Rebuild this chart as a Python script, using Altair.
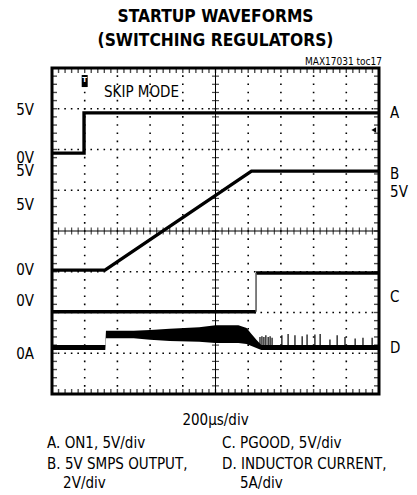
import altair as alt
import pandas as pd
import numpy as np

FONT = "DejaVu Sans Condensed, Liberation Sans Narrow, sans-serif"

# ---- waveform data (units: divisions; x 0-10, y 0-8 from bottom) ----
a_x = [0.0, 0.98, 0.98, 10.0]
a_y = [5.91, 5.91, 6.90, 6.90]

b_x = [0.0, 1.62, 6.10, 10.0]
b_y = [3.04, 3.04, 5.47, 5.47]

c_lo_x = [0.0, 6.24]
c_lo_y = [2.02, 2.02]
c_hi_x = [6.24, 10.0]
c_hi_y = [2.97, 2.97]

d_x = [0.0, 1.63, 1.65, 2.5, 3.0, 3.6, 4.5, 5.0, 5.7, 5.95, 6.1, 6.25, 6.4, 10.0]
d_top = [1.20, 1.20, 1.55, 1.55, 1.57, 1.60, 1.64, 1.69, 1.69, 1.62, 1.47, 1.33, 1.20, 1.20]
d_bot = [1.08, 1.08, 1.37, 1.37, 1.33, 1.30, 1.28, 1.25, 1.25, 1.23, 1.18, 1.13, 1.08, 1.08]
d_base = 1.14

spike_x = [6.36, 6.42, 6.48, 6.54, 6.61, 6.67, 6.73, 7.03, 7.22, 7.43, 7.65, 7.80,
           8.04, 8.20, 8.50, 8.72, 8.96, 9.27, 9.51, 9.79]
spike_top = [1.40, 1.42, 1.40, 1.44, 1.40, 1.42, 1.38, 1.44, 1.47, 1.44, 1.42, 1.46,
             1.46, 1.47, 1.34, 1.44, 1.40, 1.36, 1.38, 1.38]

# ---- text ----
left_labels = ["5V", "0V", "5V", "5V", "0V", "0V", "0A"]
left_y = [6.847, 5.680, 5.340, 4.515, 2.920, 2.160, 0.859]
right_labels = ["A", "B", "5V", "C", "D"]
right_y = [6.773, 5.276, 4.834, 2.258, 1.006]

title_lines = ["STARTUP WAVEFORMS", "(SWITCHING REGULATORS)"]
title_y = [9.12, 8.545]
note = "MAX17031 toc17"
timebase = "200\u00b5s/div"
legend_left = ["A. ON1, 5V/div", "B. 5V SMPS OUTPUT,", "2V/div"]
legend_left_x = [-0.15, -0.15, 0.34]
legend_right = ["C. PGOOD, 5V/div", "D. INDUCTOR CURRENT,", "5A/div"]
legend_right_x = [5.20, 5.20, 5.75]
legend_y = [-1.313, -1.840, -2.300]

W, H = 327, 326
xs = alt.Scale(domain=[0, 10], nice=False, zero=False)
ys = alt.Scale(domain=[0, 8], nice=False, zero=False)


def X(f="x"):
    return alt.X(f"{f}:Q", scale=xs, axis=None)


def Y(f="y"):
    return alt.Y(f"{f}:Q", scale=ys, axis=None)


# grid
gv = pd.DataFrame({"x": [1, 2, 3, 4, 6, 7, 8, 9], "y0": 0, "y1": 8})
gh = pd.DataFrame({"y": [1, 2, 3, 5, 6, 7], "x0": 0, "x1": 10})
grid_v = alt.Chart(gv).mark_rule(color="black", strokeWidth=1.6,
                                 strokeDash=[1.6, 6.55], strokeDashOffset=0.8).encode(
    x=X(), y=Y("y0"), y2="y1:Q")
grid_h = alt.Chart(gh).mark_rule(color="black", strokeWidth=1.6,
                                 strokeDash=[1.6, 4.94], strokeDashOffset=0.8).encode(
    y=Y(), x=X("x0"), x2="x1:Q")
center_v = alt.Chart(pd.DataFrame({"x": [5], "y0": [0], "y1": [8]})).mark_rule(
    color="black", strokeWidth=1).encode(x=X(), y=Y("y0"), y2="y1:Q")
center_h = alt.Chart(pd.DataFrame({"y": [4], "x0": [0], "x1": [10]})).mark_rule(
    color="black", strokeWidth=1).encode(y=Y(), x=X("x0"), x2="x1:Q")

mx = np.round(np.arange(0, 10.001, 0.2), 2)
my = np.round(np.arange(0, 8.001, 0.2), 2)
tick_xc = alt.Chart(pd.DataFrame({"x": mx, "y": 4.0})).mark_tick(
    orient="vertical", size=7, thickness=1.2, color="black").encode(x=X(), y=Y())
tick_yc = alt.Chart(pd.DataFrame({"x": 5.0, "y": my})).mark_tick(
    orient="horizontal", size=7, thickness=1.2, color="black").encode(x=X(), y=Y())
edge_x = pd.DataFrame({"x": np.concatenate([mx, mx]),
                       "y": [0.0] * len(mx) + [8.0] * len(mx)})
edge_y = pd.DataFrame({"y": np.concatenate([my, my]),
                       "x": [0.0] * len(my) + [10.0] * len(my)})
tick_xe = alt.Chart(edge_x).mark_tick(orient="vertical", size=10, thickness=1.4,
                                      color="black", clip=True).encode(x=X(), y=Y())
tick_ye = alt.Chart(edge_y).mark_tick(orient="horizontal", size=10, thickness=1.4,
                                      color="black", clip=True).encode(x=X(), y=Y())


# traces
def seg(xv, yv, name):
    return pd.DataFrame({"x": xv, "y": yv, "t": name, "i": list(range(len(xv)))})


lines_df = pd.concat([seg(a_x, a_y, "A"), seg(b_x, b_y, "B"),
                      seg(c_lo_x, c_lo_y, "C1"), seg(c_hi_x, c_hi_y, "C2")],
                     ignore_index=True)
traces = alt.Chart(lines_df).mark_line(color="black", strokeWidth=3.4).encode(
    x=X(), y=Y(), detail="t:N", order="i:Q")
c_step = alt.Chart(pd.DataFrame({"x": [c_lo_x[1]], "y": [c_lo_y[1]], "y2": [c_hi_y[0]]})).mark_rule(
    color="#555555", strokeWidth=1.5).encode(x=X(), y=Y(), y2="y2:Q")

d_df = pd.DataFrame({"x": d_x, "top": d_top, "bot": d_bot})
d_area = alt.Chart(d_df).mark_area(color="black", interpolate="linear").encode(
    x=X(), y=Y("bot"), y2="top:Q")
sp_df = pd.DataFrame({"x": spike_x, "top": spike_top, "base": d_base})
spikes = alt.Chart(sp_df).mark_rule(color="black", strokeWidth=1.2).encode(
    x=X(), y=Y("base"), y2="top:Q")

# markers
trig = alt.Chart(pd.DataFrame({"x": [1.0], "y": [7.68]})).mark_point(
    shape="M-0.5,-1L0.5,-1L0.5,1L-0.5,1Z", filled=True, color="black", size=144,
    opacity=1).encode(x=X(), y=Y())
trig_t = alt.Chart(pd.DataFrame({"x": [1.0], "y": [7.70], "t": ["T"]})).mark_text(
    color="white", fontSize=7, fontWeight="bold", font="DejaVu Sans", baseline="middle").encode(
    x=X(), y=Y(), text="t:N")
lvl = alt.Chart(pd.DataFrame({"x": [9.84], "y": [6.48]})).mark_point(
    shape="triangle-left", filled=True, color="black", size=30, opacity=1).encode(x=X(), y=Y())


# texts
def txt(labels, xv, yv, **kw):
    df = pd.DataFrame({"x": xv, "y": yv, "t": labels})
    return alt.Chart(df).mark_text(font=FONT, color="black", baseline="alphabetic", **kw).encode(
        x=X(), y=Y(), text="t:N")


t_left = txt(left_labels, [-0.55] * len(left_labels), left_y, align="right", fontSize=15)
t_right = txt(right_labels, [10.34] * len(right_labels), right_y, align="left", fontSize=15)
t_skip = txt(["SKIP MODE"], [1.59], [7.288], align="left", fontSize=15)
t_title = txt(title_lines, [5.0, 5.0], title_y, align="center", fontSize=17.3, fontWeight="bold")
t_note = txt([note], [10.09], [8.07], align="right", fontSize=10)
t_time = txt([timebase], [5.0], [-0.773], align="center", fontSize=15)
t_leg1 = txt(legend_left, legend_left_x, legend_y, align="left", fontSize=15)
t_leg2 = txt(legend_right, legend_right_x, legend_y, align="left", fontSize=15)

chart = alt.layer(
    grid_v, grid_h, center_v, center_h, tick_xc, tick_yc, tick_xe, tick_ye,
    d_area, spikes, traces, c_step, trig, trig_t, lvl,
    t_left, t_right, t_skip, t_title, t_note, t_time, t_leg1, t_leg2,
).properties(
    width=W, height=H,
    autosize=alt.AutoSizeParams(type="none"),
    padding={"left": 44, "top": 60, "right": 30, "bottom": 98},
    background="white",
).configure_view(stroke="black", strokeWidth=3)

chart.save("out.html", embed_options={"renderer": "svg", "actions": False})
